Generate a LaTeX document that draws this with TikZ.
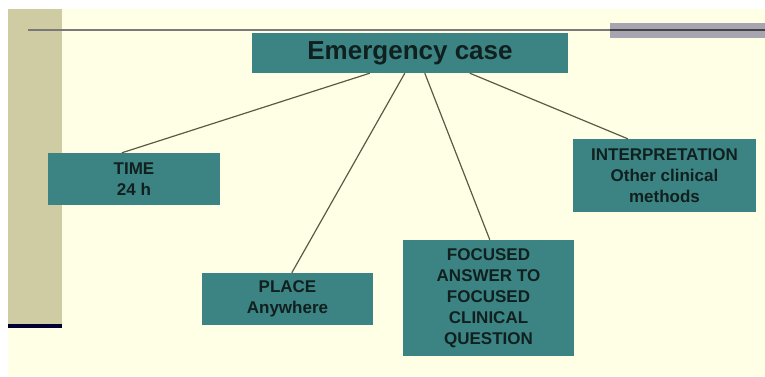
\documentclass[tikz,border=0pt]{standalone}
\usepackage{fontspec}
\setmainfont{Liberation Sans}
\definecolor{cream}{HTML}{FFFFE6}
\definecolor{tanbar}{HTML}{CFCBA2}
\definecolor{teal}{HTML}{3B8483}
\definecolor{txt}{HTML}{10201F}
\definecolor{conn}{HTML}{5C5A44}
\definecolor{rule}{HTML}{7A7878}
\definecolor{barg}{HTML}{A8A4B0}
\tikzset{
  tbox/.style={fill=teal, draw=none, inner sep=0pt, align=center, text=txt,
    font=\fontsize{17}{21}\selectfont\bfseries},
  conline/.style={draw=conn, line width=1.2pt}
}
\begin{document}
\begin{tikzpicture}[x=1pt,y=-1pt]
\useasboundingbox (0,0) rectangle (765,376);
\fill[white] (0,0) rectangle (765,376);
\fill[cream] (8,9) rectangle (765,376);
\fill[tanbar] (8,9) rectangle (62,325);
\fill[black!80!blue] (8,324) rectangle (62,328);
\draw[rule, line width=2pt] (28,30) -- (765,30);
\fill[barg] (610,23) rectangle (765,38);
\draw[black!60!barg, line width=2pt] (610,30) -- (765,30);

\node[tbox, minimum width=316pt, minimum height=40pt, font=\fontsize{26}{30}\selectfont\bfseries] (E) at (410,53) {Emergency case};
\node[tbox, minimum width=172pt, minimum height=52pt] (T) at (134,179) {TIME\\24 h};
\node[tbox, minimum width=171pt, minimum height=52pt] (P) at (287.5,299) {PLACE\\Anywhere};
\node[tbox, minimum width=171pt, minimum height=116pt] (F) at (488.5,298) {FOCUSED\\ANSWER TO\\FOCUSED\\CLINICAL\\QUESTION};
\node[tbox, minimum width=183pt, minimum height=73pt] (I) at (664.5,175.5) {INTERPRETATION\\Other clinical\\methods};

\draw[conline] ([xshift=118pt]E.south west) -- ([xshift=74pt]T.north west);
\draw[conline] ([xshift=153pt]E.south west) -- ([xshift=90pt]P.north west);
\draw[conline] ([xshift=173pt]E.south west) -- ([xshift=87pt]F.north west);
\draw[conline] ([xshift=218pt]E.south west) -- ([xshift=55pt]I.north west);
\end{tikzpicture}
\end{document}
